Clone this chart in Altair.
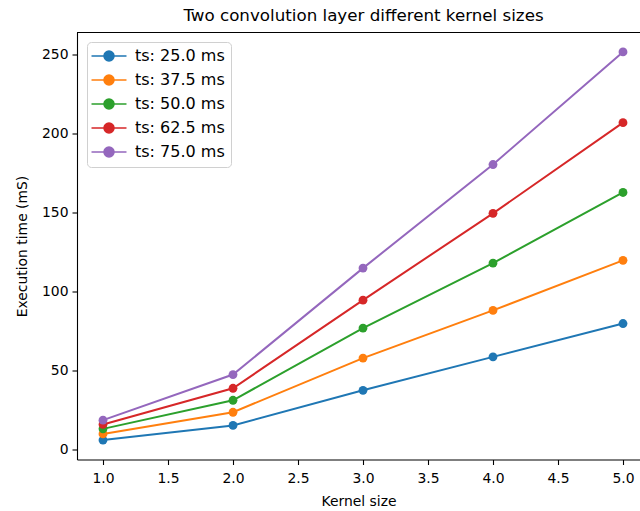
import altair as alt
import pandas as pd

# Kernel sizes on the x axis and execution time (ms) per time-step setting
kernel_sizes = [1, 2, 3, 4, 5]
series_names = ["ts: 25.0 ms", "ts: 37.5 ms", "ts: 50.0 ms", "ts: 62.5 ms", "ts: 75.0 ms"]
ts_25 = [5.9, 15.2, 37.4, 58.6, 79.7]
ts_37_5 = [9.8, 23.5, 57.8, 88.0, 119.7]
ts_50 = [13.0, 31.1, 76.8, 118.0, 162.7]
ts_62_5 = [15.8, 38.7, 94.5, 149.5, 206.9]
ts_75 = [18.5, 47.4, 114.8, 180.4, 251.7]
colors = ["#1f77b4", "#ff7f0e", "#2ca02c", "#d62728", "#9467bd"]

rows = []
for name, values in zip(series_names, [ts_25, ts_37_5, ts_50, ts_62_5, ts_75]):
    for k, v in zip(kernel_sizes, values):
        rows.append({"kernel": k, "time": v, "series": name})
df = pd.DataFrame(rows)

W, H = 563, 427
FONT = "DejaVu Sans"

# legend handle: a short line with a dot in the middle
handle = "M-3,0L3,0M-0.85,0A0.85,0.85,0,1,0,0.85,0A0.85,0.85,0,1,0,-0.85,0Z"

x_enc = alt.X(
    "kernel:Q",
    scale=alt.Scale(domain=[0.8, 0.8 + W / 130.0], nice=False, zero=False),
    axis=alt.Axis(
        title="Kernel size", values=[1, 1.5, 2, 2.5, 3, 3.5, 4, 4.5, 5],
        format=".1f", grid=False, tickSize=5, labelPadding=7, titlePadding=9,
    ),
)
y_enc = alt.Y(
    "time:Q",
    scale=alt.Scale(domain=[-6.4, 264], nice=False, zero=False),
    axis=alt.Axis(
        title="Execution time (mS)", values=[0, 50, 100, 150, 200, 250],
        grid=False, tickSize=5, labelPadding=4, titlePadding=12,
    ),
)
color_enc = alt.Color(
    "series:N",
    scale=alt.Scale(domain=series_names, range=colors),
    legend=alt.Legend(
        title=None, orient="none", legendX=10, legendY=9.5,
        symbolType=handle, symbolSize=136, symbolStrokeWidth=1.6,
        symbolOffset=8, labelOffset=18, rowPadding=6, padding=6,
        fillColor="rgba(255,255,255,0.8)", strokeColor="#d0d0d0",
        cornerRadius=4, labelFontSize=16, labelFont=FONT, labelColor="#000000",
    ),
)

lines = alt.Chart(df).mark_line(
    strokeWidth=2.0,
    point=alt.OverlayMarkDef(filled=True, size=78, opacity=1),
).encode(x=x_enc, y=y_enc, color=color_enc)

# top frame edge
top_edge = alt.Chart(df).mark_rule(color="#000000", strokeWidth=1.1).encode(
    x=alt.value(0), x2=alt.value(W), y=alt.value(0)
)

chart = alt.layer(lines, top_edge).properties(
    width=W, height=H,
    title=alt.TitleParams(
        "Two convolution layer different kernel sizes",
        font=FONT, fontSize=16.7, fontWeight="normal", color="#000000",
        anchor="middle", baseline="alphabetic", offset=12, dx=5, dy=18,
    ),
    autosize=alt.AutoSizeParams(type="none"),
    padding={"left": 77, "top": 32.5, "right": 0, "bottom": 51.5},
).configure_view(stroke=None).configure_axis(
    labelFont=FONT, titleFont=FONT, labelFontSize=13.9, titleFontSize=13.9,
    titleFontWeight="normal", labelColor="#000000", titleColor="#000000",
    domainColor="#000000", tickColor="#000000", domainWidth=1.1, tickWidth=1.1,
)

chart.save("out.html", embed_options={"renderer": "svg", "actions": False})
